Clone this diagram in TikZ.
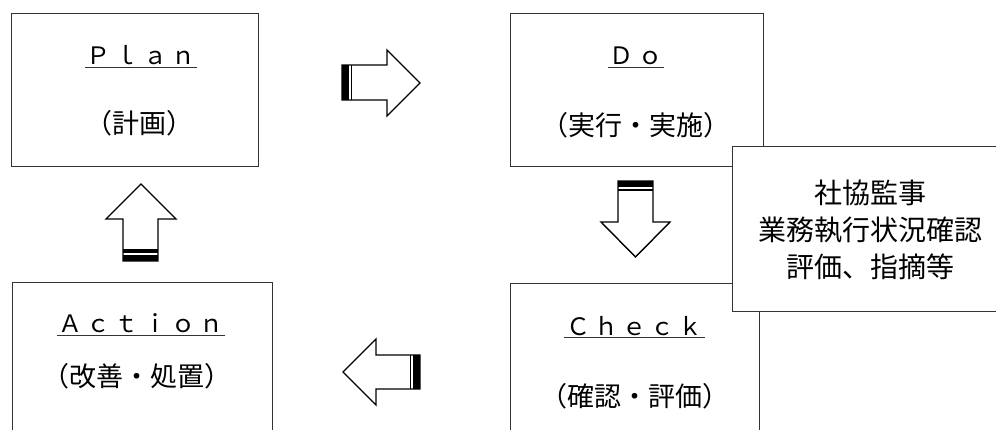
\documentclass[tikz,border=0pt]{standalone}
\usepackage{fontspec}
\newfontfamily\jp{Noto Sans CJK JP}
\newfontfamily\jpwide[LetterSpace=17]{Noto Sans CJK JP}
\begin{document}
\begin{tikzpicture}[x=1pt,y=-1pt,
  box/.style={draw=black!80, line width=1.2pt, fill=white, anchor=north west, inner sep=0},
  ttl/.style={font=\jpwide\fontsize{24}{28}\selectfont, inner sep=0, anchor=base},
  sub/.style={font=\jp\fontsize{27}{32}\selectfont, inner sep=0},
  uline/.style={draw=black!80, line width=1pt},
  blk/.style={draw=black, line width=1.4pt, fill=white, line join=miter},
  band/.style={fill=black}]
\useasboundingbox (0,0) rectangle (996,430);
\fill[white] (0,0) rectangle (996,430);

% boxes
\node[box, minimum width=247pt, minimum height=153pt] (plan) at (11,13) {};
\node[box, minimum width=253pt, minimum height=153pt] (do) at (510,13) {};
\node[box, minimum width=249pt, minimum height=160pt] (check) at (510,283) {};
\node[box, minimum width=260pt, minimum height=160pt] (action) at (12,282) {};
\node[box, minimum width=280pt, minimum height=165pt] (audit) at (732,146) {};

% titles
\node[ttl, minimum width=112pt] (plant) at (141,65) {Ｐｌａｎ};
\draw[uline] ([yshift=-3pt]plant.base west) -- ([yshift=-3pt]plant.base east);
\node[ttl, minimum width=56pt] (dot) at (636,65) {Ｄｏ};
\draw[uline] ([yshift=-3pt]dot.base west) -- ([yshift=-3pt]dot.base east);
\node[ttl, minimum width=140pt] (checkt) at (634.5,335) {Ｃｈｅｃｋ};
\draw[uline] ([yshift=-3pt]checkt.base west) -- ([yshift=-3pt]checkt.base east);
\node[ttl, minimum width=168pt] (actiont) at (141,333) {Ａｃｔｉｏｎ};
\draw[uline] ([yshift=-3pt]actiont.base west) -- ([yshift=-3pt]actiont.base east);

% subtitles
\node[sub] (plans) at (139.5,123) {（計画）};
\node[sub] (dos) at (636,125) {（実行・実施）};
\node[sub] (checks) at (635,396) {（確認・評価）};
\node[sub] (actions) at (137,376) {（改善・処置）};

% audit text
\node[font=\jp\fontsize{28}{37}\selectfont, align=center, inner sep=0] (auditt) at (870,230)
  {社協監事\\業務執行状況確認\\評価、指摘等};

% right arrow (Plan -> Do)
\draw[blk] (342,65) -- (387,65) -- (387,50) -- (420,83) -- (387,116) -- (387,100) -- (342,100) -- cycle;
\fill[band] (342,65) rectangle (349,100);
\fill[band] (350.7,65) rectangle (352.2,100);

% down arrow (Do -> Check)
\draw[blk] (618,181) -- (653,181) -- (653,222) -- (670,222) -- (635.5,257) -- (601,222) -- (618,222) -- cycle;
\fill[band] (618,181) rectangle (653,187.5);
\fill[band] (618,189.3) rectangle (653,191);

% left arrow (Check -> Action)
\draw[blk] (420,355) -- (376,355) -- (376,339) -- (343,372) -- (376,405) -- (376,389) -- (420,389) -- cycle;
\fill[band] (413,355) rectangle (420,389);
\fill[band] (409.5,355) rectangle (411.2,389);

% up arrow (Action -> Plan)
\draw[blk] (123,261) -- (123,219) -- (106,219) -- (141,184) -- (176,219) -- (158,219) -- (158,261) -- cycle;
\fill[band] (123,255) rectangle (158,261);
\fill[band] (123,249.5) rectangle (158,252.7);
\end{tikzpicture}
\end{document}
